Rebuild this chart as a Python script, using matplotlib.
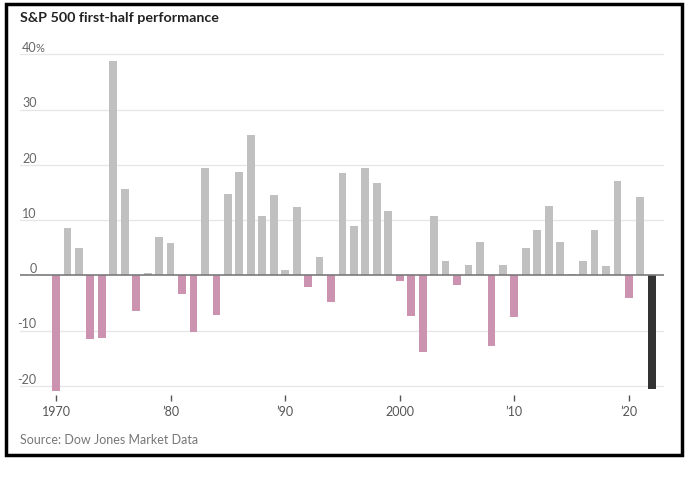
import matplotlib.pyplot as plt
from matplotlib.patches import Rectangle

plt.rcParams['font.family'] = ['Lato', 'DejaVu Sans']

years = list(range(1970, 2023))
returns = [-21.0, 8.5, 5.0, -11.6, -11.4, 38.8, 15.6, -6.4, 0.4, 6.9,
           5.8, -3.3, -10.3, 19.4, -7.1, 14.7, 18.7, 25.5, 10.7, 14.5,
           1.0, 12.4, -2.1, 3.4, -4.8, 18.6, 9.0, 19.5, 16.8, 11.7,
           -1.0, -7.3, -13.8, 10.8, 2.6, -1.7, 1.8, 6.0, -12.8, 1.8,
           -7.6, 5.0, 8.3, 12.6, 6.1, 0.2, 2.7, 8.2, 1.7, 17.1,
           -4.1, 14.2, -20.6]
xticks = [1970, 1980, 1990, 2000, 2010, 2020]
xtick_labels = ["1970", "\u201980", "\u201990", "2000", "\u201910", "\u201920"]
yticks = [-20, -10, 0, 10, 20, 30, 40]
ytick_labels = ["-20", "-10", "0", "10", "20", "30", "40"]

W, H = 690, 478
fig = plt.figure(figsize=(W / 100, H / 100), dpi=100)

# axes placed in pixel coordinates of the reference
left, right, top, bottom = 20, 664, 44, 395
ax = fig.add_axes([left / W, 1 - bottom / H, (right - left) / W, (bottom - top) / H])

colors = []
for y, v in zip(years, returns):
    if y == 2022:
        colors.append("#333333")
    elif v < 0:
        colors.append("#cc93b0")
    else:
        colors.append("#c0c0c0")
ax.bar(years, returns, width=0.68, color=colors, zorder=2)

ax.set_xlim(1966.86, 2023.06)
ax.set_ylim(-21.65, 41.9)

for t, lab in zip(yticks, ytick_labels):
    if t == 0:
        ax.axhline(0, color="#7a7a7a", lw=1.2, zorder=3)
    else:
        ax.axhline(t, color="#e6e6e6", lw=0.9, zorder=1)
    ax.text(1968.3, t + 1.15, lab, ha="right", va="center",
            fontsize=9, color="#666666")
ax.text(1968.25, 41.15, "%", ha="left", va="center", fontsize=8, color="#666666")

for s in ax.spines.values():
    s.set_visible(False)
ax.set_yticks([])
ax.set_xticks(xticks)
ax.set_xticklabels(xtick_labels, fontsize=9, color="#555555")
ax.tick_params(axis="x", length=4, width=1, color="#555555", pad=4)

fig.text(20 / W, 1 - 18 / H, "S&P 500 first-half performance", fontsize=10.3,
         fontweight="bold", color="#222222", ha="left", va="center")
fig.text(20 / W, 1 - 440 / H, "Source: Dow Jones Market Data", fontsize=9,
         color="#777777", ha="left", va="center")

fig.patches.append(Rectangle((6 / W, 1 - 455 / H), 676 / W, 451 / H,
                             transform=fig.transFigure, fill=False,
                             edgecolor="black", lw=2.5))

fig.savefig("out.png", dpi=100)
